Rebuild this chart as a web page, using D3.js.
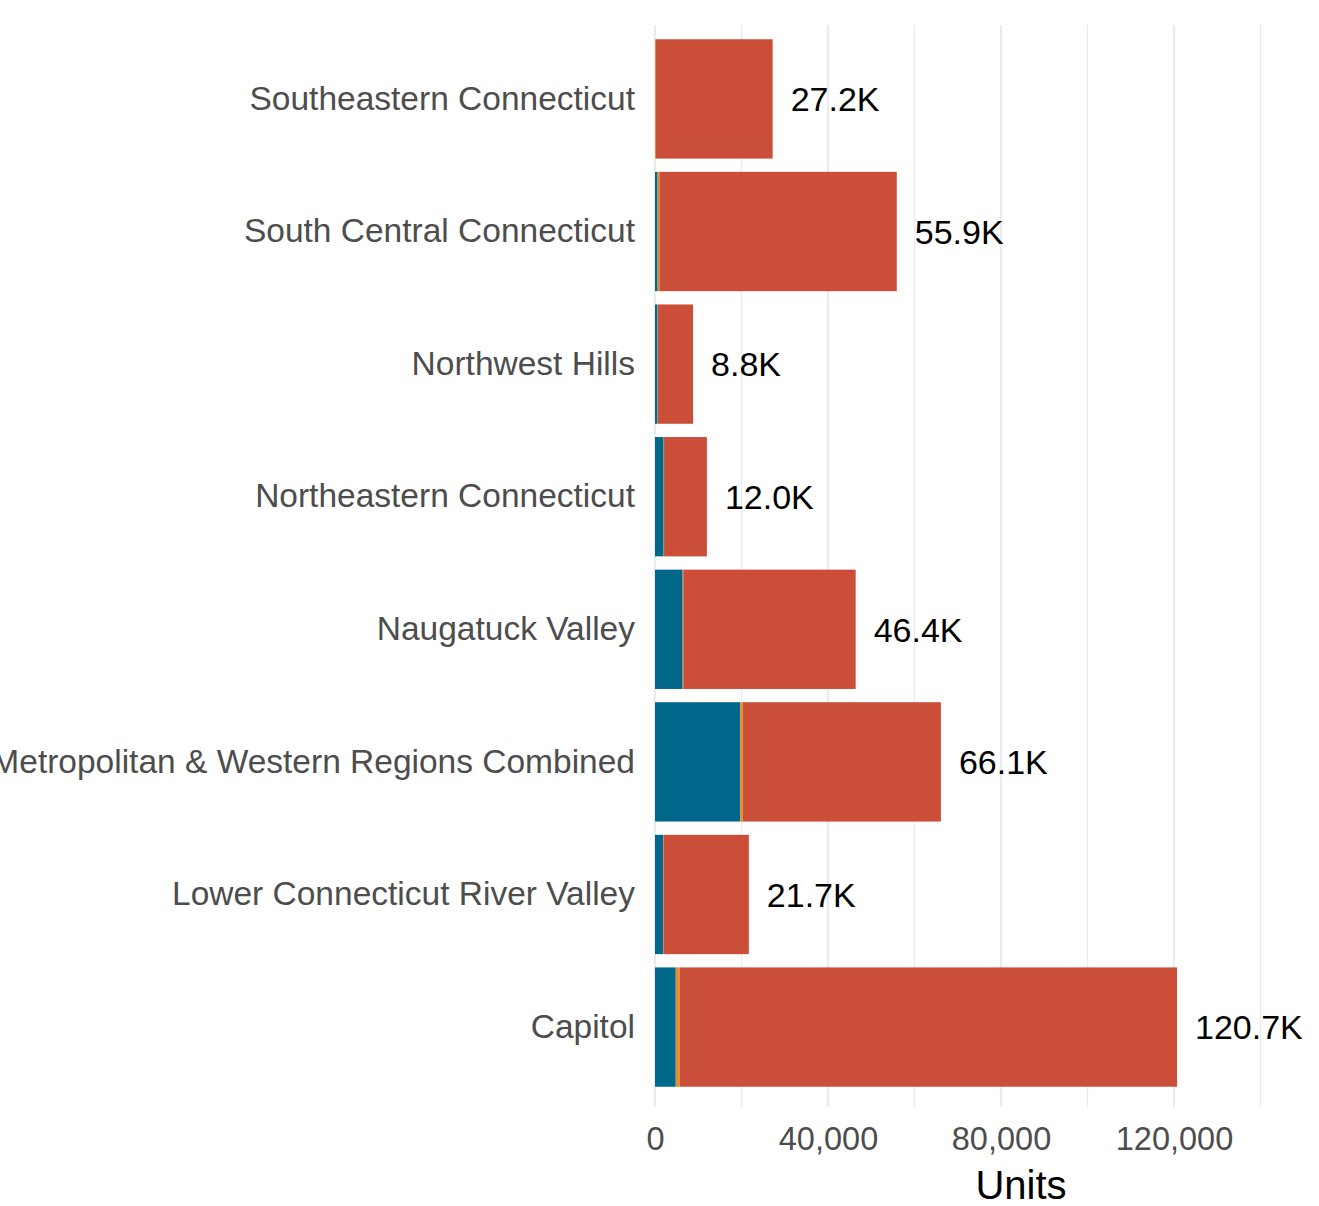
<!DOCTYPE html>
<html>
<head>
<meta charset="utf-8">
<script src="https://cdn.jsdelivr.net/npm/d3@7"></script>
<style>
  html, body { margin: 0; padding: 0; background: #ffffff; }
  svg { display: block; font-family: "Liberation Sans", Arial, Helvetica, sans-serif; }
</style>
</head>
<body>
<svg id="chart" width="1319" height="1206"></svg>
<script>
// Planning regions, listed top to bottom
const regions = [
  "Southeastern Connecticut",
  "South Central Connecticut",
  "Northwest Hills",
  "Northeastern Connecticut",
  "Naugatuck Valley",
  "Metropolitan & Western Regions Combined",
  "Lower Connecticut River Valley",
  "Capitol"
];

// Stacked segments (units), in drawing order left to right
const segBlue   = [0,     600,   600,  2000, 6400,  19700, 1850,  4800];
const segOrange = [200,   400,   100,  100,  150,   600,   100,   900];
const segRed    = [27000, 54900, 8100, 9900, 39850, 45800, 19750, 115000];

const seriesKeys = ["blue", "orange", "red"];
const seriesColors = ["#01688c", "#e08f2b", "#cb4e39"];

// Axis ticks
const tickValues = [0, 40000, 80000, 120000];
const gridValues = [0, 20000, 40000, 60000, 80000, 100000, 120000, 140000];

const rows = regions.map((r, i) => ({
  region: r,
  blue: segBlue[i],
  orange: segOrange[i],
  red: segRed[i]
}));

const svg = d3.select("#chart");

const x = d3.scaleLinear().domain([0, 140000]).range([655, 1260.5]);
const y = d3.scaleBand().domain(regions).range([26, 1100])
  .paddingInner(0.1).paddingOuter(0.1);

// Vertical grid lines
svg.append("g").selectAll("line").data(gridValues).join("line")
  .attr("x1", d => x(d)).attr("x2", d => x(d))
  .attr("y1", 25).attr("y2", 1107)
  .attr("stroke", "#ebebeb").attr("stroke-width", d => d % 40000 === 0 ? 2.2 : 1.3);

// Stacked bars
const stack = d3.stack().keys(seriesKeys)(rows);
svg.append("g").selectAll("g").data(stack).join("g")
  .attr("fill", (d, i) => seriesColors[i])
  .selectAll("rect").data(d => d).join("rect")
  .attr("x", d => x(d[0]))
  .attr("width", d => Math.max(0, x(d[1]) - x(d[0])))
  .attr("y", d => y(d.data.region))
  .attr("height", y.bandwidth());

// Total labels at bar ends
const fmtK = v => (v / 1000).toFixed(1) + "K";
svg.append("g").selectAll("text").data(rows).join("text")
  .attr("x", d => x(d.blue + d.orange + d.red) + 18)
  .attr("y", d => y(d.region) + y.bandwidth() / 2)
  .attr("dy", "0.36em")
  .attr("font-size", 34)
  .attr("fill", "#000000")
  .text(d => fmtK(d.blue + d.orange + d.red));

// Category axis (labels only)
const yAxis = svg.append("g")
  .attr("transform", "translate(655,0)")
  .call(d3.axisLeft(y).tickSize(0).tickPadding(20));
yAxis.select(".domain").remove();
yAxis.selectAll("text")
  .attr("font-size", 33.5)
  .attr("fill", "#4d4d4d")
  .attr("font-family", "'Liberation Sans', Arial, sans-serif");

// Value axis (labels only)
const xAxis = svg.append("g")
  .attr("transform", "translate(0,1107)")
  .call(d3.axisBottom(x).tickValues(tickValues).tickSize(0).tickPadding(20)
    .tickFormat(d3.format(",")));
xAxis.select(".domain").remove();
xAxis.selectAll("text")
  .attr("font-size", 32.5)
  .attr("fill", "#4d4d4d")
  .attr("font-family", "'Liberation Sans', Arial, sans-serif");

// Axis title
svg.append("text")
  .attr("x", 1021).attr("y", 1199)
  .attr("text-anchor", "middle")
  .attr("font-size", 40)
  .attr("fill", "#000000")
  .text("Units");
</script>
</body>
</html>
